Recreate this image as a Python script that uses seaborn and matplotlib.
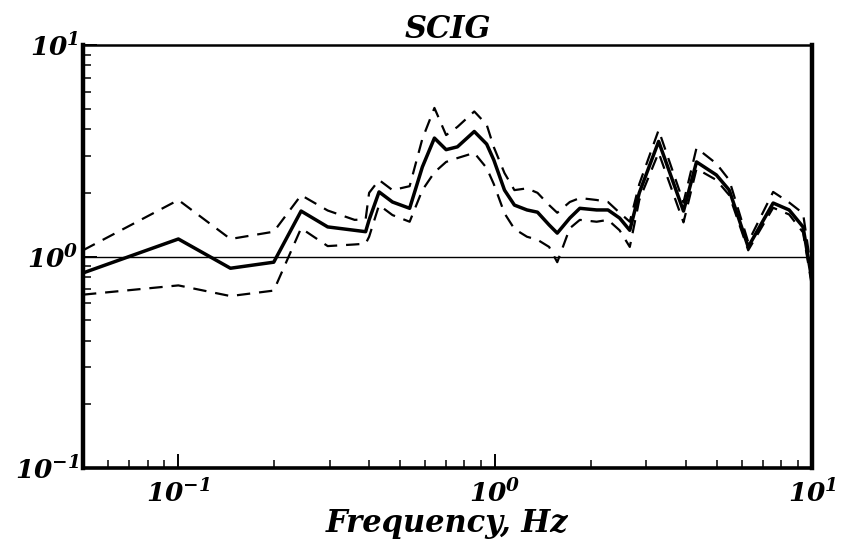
import numpy as np
import pandas as pd
import matplotlib
matplotlib.use("Agg")
import matplotlib.pyplot as plt
import matplotlib.ticker as mticker
import seaborn as sns

# Spectral ratio for SCIG: mean and +/- one standard deviation bounds
freq = [0.05, 0.1, 0.146, 0.2, 0.244, 0.296, 0.36, 0.39, 0.40, 0.43, 0.474,
        0.537, 0.589, 0.643, 0.70, 0.76, 0.859, 0.94, 0.99, 1.07, 1.15, 1.26,
        1.36, 1.48, 1.57, 1.72, 1.85, 2.09, 2.27, 2.47, 2.66, 2.85, 3.28,
        3.93, 4.32, 4.99, 5.48, 6.29, 7.54, 8.47, 9.37, 10.0]
mean_ratio = [0.836, 1.21, 0.88, 0.94, 1.64, 1.38, 1.33, 1.31, 1.49, 2.02, 1.81,
              1.69, 2.65, 3.63, 3.20, 3.30, 3.90, 3.40, 2.86, 2.06, 1.75, 1.66,
              1.62, 1.41, 1.29, 1.52, 1.69, 1.66, 1.66, 1.52, 1.33, 2.00, 3.50,
              1.64, 2.80, 2.43, 2.06, 1.11, 1.79, 1.66, 1.38, 0.77]
upper_ratio = [1.07, 1.85, 1.21, 1.31, 1.95, 1.65, 1.49, 1.50, 2.00, 2.30, 2.06,
               2.15, 3.60, 5.04, 3.75, 4.10, 4.85, 4.20, 3.29, 2.48, 2.06, 2.10,
               2.00, 1.75, 1.61, 1.81, 1.89, 1.85, 1.81, 1.61, 1.46, 2.20, 3.96,
               1.80, 3.26, 2.75, 2.30, 1.17, 2.02, 1.80, 1.60, 0.82]
lower_ratio = [0.66, 0.73, 0.65, 0.69, 1.36, 1.12, 1.14, 1.15, 1.24, 1.75, 1.57,
               1.46, 2.06, 2.50, 2.80, 2.92, 3.09, 2.62, 2.20, 1.60, 1.35, 1.24,
               1.20, 1.11, 0.94, 1.36, 1.49, 1.46, 1.49, 1.33, 1.11, 1.85, 3.10,
               1.45, 2.60, 2.30, 1.95, 1.07, 1.70, 1.58, 1.30, 0.72]

df = pd.DataFrame({"freq": freq, "mean": mean_ratio,
                   "upper": upper_ratio, "lower": lower_ratio})

sns.set_style("ticks")
plt.rcParams["font.family"] = ["DejaVu Serif"]
plt.rcParams["font.style"] = "italic"
plt.rcParams["font.weight"] = "bold"
plt.rcParams["text.color"] = "black"
plt.rcParams["axes.labelcolor"] = "black"
plt.rcParams["mathtext.fontset"] = "custom"
plt.rcParams["mathtext.it"] = "DejaVu Serif:italic:bold"
plt.rcParams["mathtext.rm"] = "DejaVu Serif:italic:bold"
plt.rcParams["mathtext.default"] = "it"

fig = plt.figure(figsize=(8.45, 5.42), dpi=100)
ax = fig.add_axes([83 / 845, 74 / 542, 729 / 845, 423 / 542])

ax.axhline(1.0, color="black", lw=1.0, zorder=1)
sns.lineplot(data=df, x="freq", y="upper", ax=ax, color="black", lw=1.6,
             linestyle=(0, (6, 4)), zorder=2)
sns.lineplot(data=df, x="freq", y="lower", ax=ax, color="black", lw=1.6,
             linestyle=(0, (6, 4)), zorder=2)
sns.lineplot(data=df, x="freq", y="mean", ax=ax, color="black", lw=2.5, zorder=3)

ax.set_xscale("log")
ax.set_yscale("log")
ax.set_xlim(0.05, 10)
ax.set_ylim(0.1, 10)

ax.xaxis.set_major_locator(mticker.LogLocator(base=10, numticks=10))
ax.yaxis.set_major_locator(mticker.LogLocator(base=10, numticks=10))
ax.xaxis.set_minor_locator(mticker.LogLocator(base=10, subs=np.arange(2, 10), numticks=20))
ax.yaxis.set_minor_locator(mticker.LogLocator(base=10, subs=np.arange(2, 10), numticks=20))
ax.xaxis.set_minor_formatter(mticker.NullFormatter())
ax.yaxis.set_minor_formatter(mticker.NullFormatter())
fmt = mticker.FuncFormatter(lambda v, p: r"$10^{%d}$" % int(round(np.log10(v))))
ax.xaxis.set_major_formatter(fmt)
ax.yaxis.set_major_formatter(fmt)

ax.tick_params(axis="both", which="both", direction="in", colors="black",
               bottom=True, left=True, top=False, right=False)
ax.tick_params(axis="both", which="major", length=10, width=1.4, labelsize=19)
ax.tick_params(axis="both", which="minor", length=6, width=1.1)
ax.tick_params(axis="x", which="major", pad=8)
ax.tick_params(axis="y", which="major", pad=3)

for side, w in {"left": 3.2, "bottom": 2.6, "right": 3.2, "top": 1.8}.items():
    ax.spines[side].set_visible(True)
    ax.spines[side].set_linewidth(w)
    ax.spines[side].set_color("black")

ax.set_xlabel("Frequency, Hz", fontsize=22, style="italic", weight="bold",
              color="black", labelpad=0)
ax.set_ylabel("")
ax.set_title("SCIG", fontsize=22, style="italic", weight="bold", color="black", pad=4)

fig.savefig("out.png", dpi=100, facecolor="white")
